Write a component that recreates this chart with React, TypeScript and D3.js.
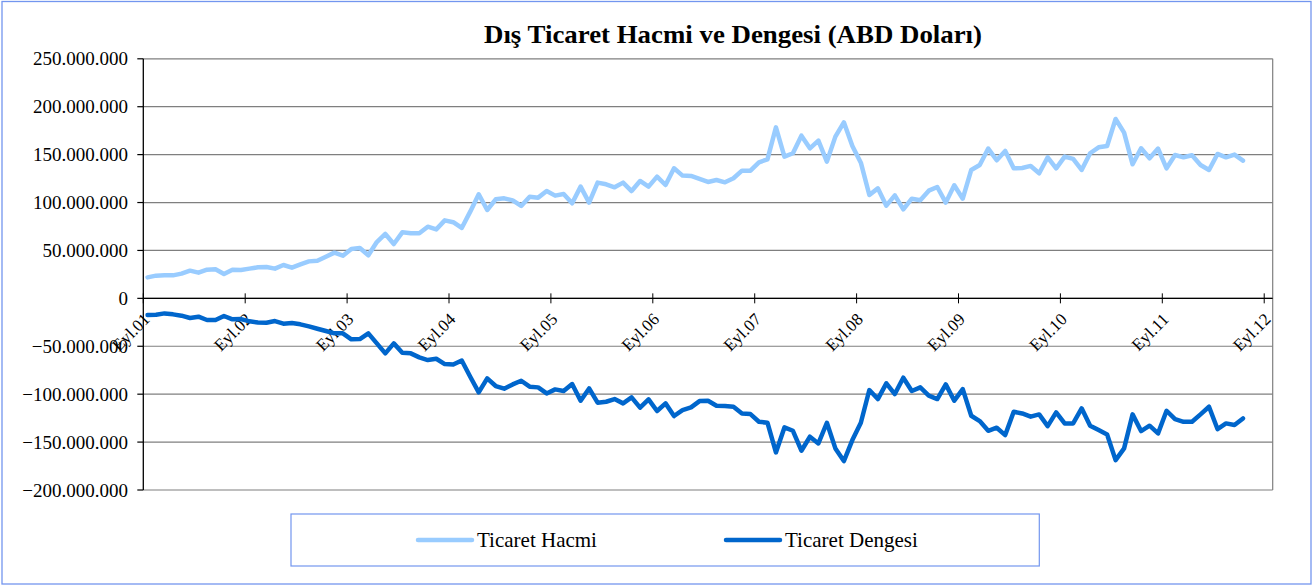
import * as d3 from 'd3';
import React from 'react';

// monthly categories, Eyl.01 .. Eyl.12 (133 slots, data stops in Haz.12)
const months = d3.timeMonth.range(new Date(2001, 8, 1), new Date(2012, 9, 1));
const tickLabels = [
  'Eyl.01', 'Eyl.02', 'Eyl.03', 'Eyl.04', 'Eyl.05', 'Eyl.06',
  'Eyl.07', 'Eyl.08', 'Eyl.09', 'Eyl.10', 'Eyl.11', 'Eyl.12',
];
const yTicks = [250e6, 200e6, 150e6, 100e6, 50e6, 0, -50e6, -100e6, -150e6, -200e6];

// million USD
const ticaretHacmi = [
  21.9, 23.7, 24, 24, 25.8, 28.9, 26.8, 29.9, 30.3, 25.4, 29.9, 29.6, 31, 32.4, 32.7, 31,
  34.8, 32, 35.5, 38.6, 39.3, 43.5, 47.7, 44.5, 51.5, 52.5, 44.9, 58.8, 67.2, 56.7, 68.9,
  67.9, 67.9, 74.8, 72, 81.4, 79.5, 73.5,
  90.5, 108.6, 92.2, 103.4, 104.4, 102.3, 96.4, 106.1, 105.1, 112, 107.2, 108.9, 99.2,
  116.6, 99.9, 120.8, 119, 115.9, 120.8, 112, 122.5, 116.6, 127, 118.3, 135.7, 128.1,
  127.7, 124.6, 121.5, 123.5, 121.1, 125.3, 133.3, 133.3, 142, 145.1,
  178.5, 147.9, 151.4, 169.8, 156.6, 164.6, 142.7, 168.8, 183.7, 159, 141.6, 107.9, 114.8,
  96.7, 107.5, 92.9, 104, 102.3, 112.4, 116.2, 99.9, 118, 104, 134, 139.2, 156.3, 144.1,
  153.8, 135.7, 136.1,
  138.2, 130.5, 147.2, 135.7, 147.9, 145.5, 134, 151.4, 157.6, 159, 187.2, 173, 139.9,
  156.6, 146.2, 156.3, 135.7, 149.6, 147.2, 149.3, 139.2, 134, 150.7, 147.2, 150, 143.7,
];

const ticaretDengesi = [
  -17.4, -17.1, -15.7, -16.7, -18.1, -20.5, -19.1, -22.6, -22.6, -18.4, -21.9, -21.6, -24,
  -25.1, -25.4, -23.7, -26.4, -25.8, -27.1, -29.2, -31.7, -34.1, -36.5, -36.5, -42.8, -42.5,
  -36.5, -47, -57.4, -47, -56.7, -57.4, -61.6, -64.4, -63, -68.6, -69.1, -64.9,
  -81.8, -98.1, -83.5, -91.5, -94.3, -89.8, -86, -92.2, -92.9, -99.2, -95, -96.7, -89.4,
  -106.8, -94, -108.9, -107.9, -105.1, -109.6, -103.4, -114.1, -105.4, -117.6, -109.6,
  -122.8, -116.6, -113.8, -107.2, -106.8, -112.1, -112.4, -113.1, -120.1, -120.8, -128.8,
  -129.8,
  -160.8, -134.7, -138.2, -159, -144.4, -151.4, -129.8, -156.6, -169.8, -147.9, -129.8,
  -95.7, -105.1, -88.7, -99.9, -82.8, -96.7, -92.9, -101.6, -105.1, -89.8, -106.8, -94.7,
  -122.5, -128.1, -138.2, -135, -142.7, -118.3, -120.1,
  -123.5, -121.1, -133.3, -119, -130.5, -130.5, -114.8, -132.9, -137.5, -142, -168.8,
  -156.6, -121.1, -138.5, -132.9, -140.9, -117.3, -126, -128.8, -128.8, -121.1, -113.1,
  -136.4, -130.5, -132.2, -125.3,
];

const series = [
  { name: 'Ticaret Hacmi', values: ticaretHacmi, color: '#99ccff' },
  { name: 'Ticaret Dengesi', values: ticaretDengesi, color: '#0066cc' },
];

const W = 1314;
const H = 585;
const plot = { left: 143.3, right: 1272.7, top: 58.8, bottom: 490 };
const font = '"Times New Roman", "Liberation Serif", serif';
const trFormat = d3.formatLocale({ decimal: ',', thousands: '.', grouping: [3], currency: ['', ''] }).format(',.0f');

export default function App() {
  const x = d3
    .scaleBand<number>()
    .domain(months.map((_, i) => i))
    .range([plot.left, plot.right]);
  const bw = x.bandwidth();
  const y = d3.scaleLinear().domain([-200e6, 250e6]).range([plot.bottom, plot.top]);
  const y0 = y(0);

  const line = d3
    .line<number>()
    .x((_, i) => x(i)! + bw / 2)
    .y((d) => y(d * 1e6));

  return (
    <svg
      width={W}
      height={H}
      style={{ position: 'absolute', left: 0, top: 0, background: '#fff' }}
      fontFamily={font}
    >
      <rect x={2} y={1.5} width={1309} height={582.5} fill="#fff" stroke="#7396ef" strokeWidth={1.3} />

      <text
        x={733}
        y={43}
        textAnchor="middle"
        fontSize={25}
        fontWeight="bold"
        textLength={498}
        lengthAdjust="spacingAndGlyphs"
      >
        Dış Ticaret Hacmi ve Dengesi (ABD Doları)
      </text>

      {/* grid */}
      {yTicks.map((t) => (
        <line key={t} x1={plot.left} x2={plot.right} y1={y(t)} y2={y(t)} stroke="#7f7f7f" strokeWidth={1.2} />
      ))}
      <line x1={plot.right} x2={plot.right} y1={plot.top} y2={plot.bottom} stroke="#7f7f7f" strokeWidth={1.2} />

      {/* y axis */}
      <line x1={plot.left} x2={plot.left} y1={plot.top} y2={plot.bottom} stroke="#000" strokeWidth={1.3} />
      {yTicks.map((t) => (
        <g key={t}>
          <line x1={plot.left - 6} x2={plot.left} y1={y(t)} y2={y(t)} stroke="#000" strokeWidth={1.2} />
          <text x={128} y={y(t)} dy="0.35em" textAnchor="end" fontSize={19}>
            {trFormat(t)}
          </text>
        </g>
      ))}

      {/* x axis */}
      <line x1={plot.left} x2={plot.right} y1={y0} y2={y0} stroke="#000" strokeWidth={1.3} />
      {tickLabels.map((lab, k) => {
        const tx = x(k * 12)!;
        return (
          <g key={lab}>
            <line x1={tx} x2={tx} y1={y0 - 5} y2={y0 + 5} stroke="#000" strokeWidth={1} />
            <text
              transform={`translate(${tx + 7.5},${y0 + 22}) rotate(-45)`}
              textAnchor="end"
              fontSize={17}
            >
              {lab}
            </text>
          </g>
        );
      })}

      {/* lines */}
      {series.map((s) => (
        <path
          key={s.name}
          d={line(s.values) ?? ''}
          fill="none"
          stroke={s.color}
          strokeWidth={4.5}
          strokeLinejoin="round"
          strokeLinecap="round"
        />
      ))}

      {/* legend */}
      <rect x={291} y={514} width={748.3} height={52} fill="#fff" stroke="#7396ef" strokeWidth={1.2} />
      {series.map((s, i) => {
        const lx = i === 0 ? 418 : 726;
        return (
          <g key={s.name}>
            <line x1={lx} x2={lx + 54} y1={540} y2={540} stroke={s.color} strokeWidth={4.5} strokeLinecap="round" />
            <text x={lx + 59} y={547} fontSize={21}>
              {s.name}
            </text>
          </g>
        );
      })}
    </svg>
  );
}
